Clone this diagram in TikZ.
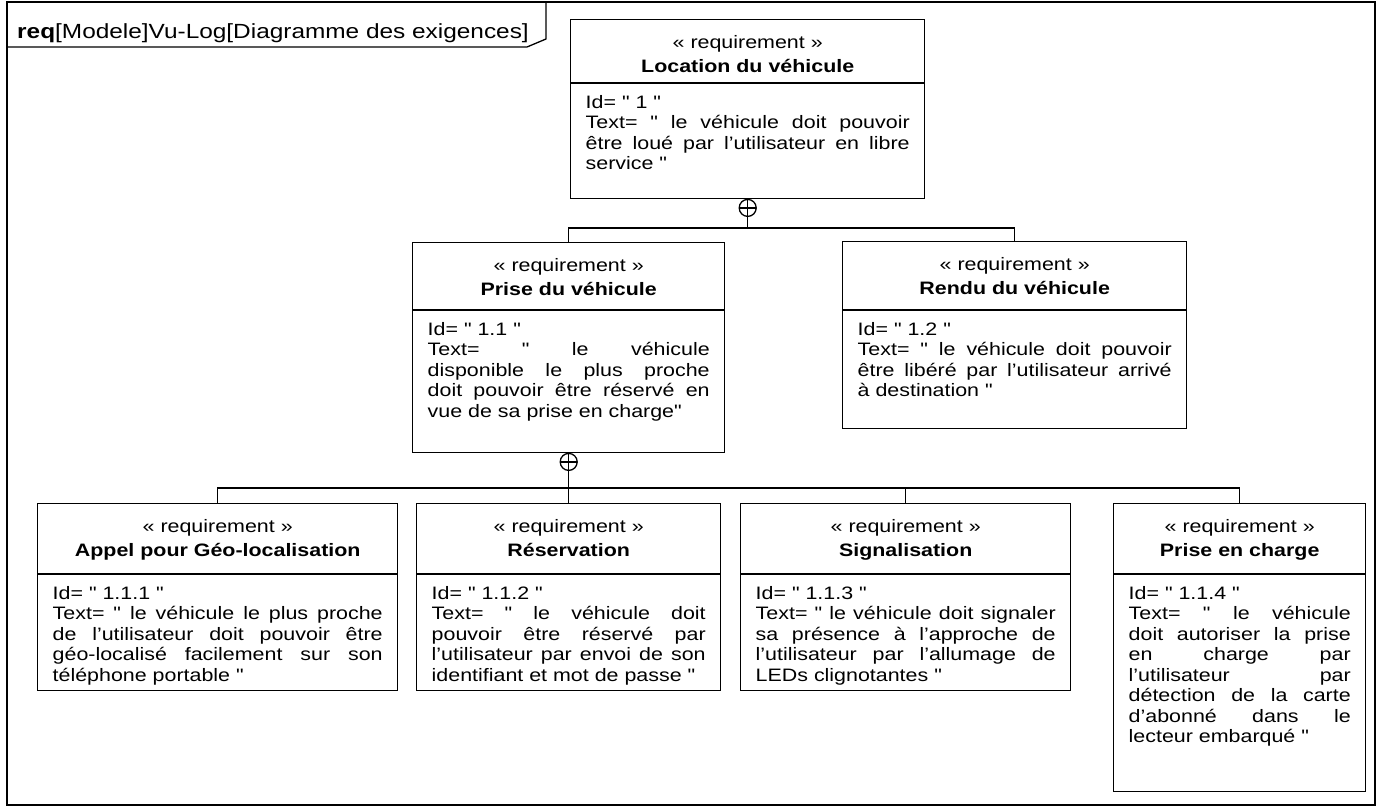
\documentclass[tikz,border=0pt]{standalone}
\usepackage{fontspec}
\setmainfont{Liberation Sans}[FakeStretch=1.19, Ligatures=TeXOff]
\usetikzlibrary{positioning}
\setlength{\parindent}{0pt}
\tolerance=10000
\hbadness=10000
\hyphenpenalty=10000
\exhyphenpenalty=10000

% one requirement block: name, x, y, text width, header height, height, title, id, text
\newcommand{\reqbox}[9]{%
  \node[reqframe, minimum width=#4pt+30pt, minimum height=#6pt] (#1) at (#2,#3) {};
  \node[stereo] (#1-s) at ([yshift=-29pt]#1.north) {« requirement »};
  \node[reqname] (#1-n) at ([yshift=-53pt]#1.north) {#7};
  \draw[reqline] ([yshift=-#5pt]#1.north west) -- ([yshift=-#5pt]#1.north east);
  \node[reqbody, text width=#4pt] (#1-b) at ([yshift=-#5pt]#1.north) {Id= " #8 "\par #9};
}

\begin{document}
\begin{tikzpicture}[
    x=1pt, y=-1pt,
    reqframe/.style={draw, line width=1.4pt, anchor=north west, inner sep=0pt},
    reqline/.style={line width=1.4pt},
    stereo/.style={anchor=base, inner sep=0pt, font=\fontsize{18}{20}\selectfont},
    reqname/.style={anchor=base, inner sep=0pt, font=\fontsize{18}{20}\selectfont\bfseries},
    reqbody/.style={anchor=north, inner sep=0pt, yshift=-12pt, align=justify,
      font=\fontsize{18}{20.5}\selectfont},
    conn/.style={line width=1.3pt},
    containment/.style={draw, circle, fill=white, minimum size=17pt, inner sep=0pt, line width=1.3pt,
      path picture={\draw[line width=1.3pt] (path picture bounding box.north) -- (path picture bounding box.south)
        (path picture bounding box.west) -- (path picture bounding box.east);}}
    ]
    \useasboundingbox (0,0) rectangle (1381,811);

    % diagram frame
    \draw[line width=1.3pt] (7,2) rectangle (1375,805);
    \draw[line width=1.3pt] (7,47) -- (527,47) -- (546,39) -- (546,2);
    \node[anchor=base west, inner sep=0pt, font=\fontsize{20.5}{22}\selectfont] (label) at (17,38)
      {\textbf{req}[Modele]Vu-Log[Diagramme des exigences]};

    \reqbox{loc}{570}{19}{324}{64}{179}{Location du véhicule}{1}
      {Text= " le véhicule doit pouvoir\linebreak être loué par l’utilisateur en libre\linebreak service "}
    \reqbox{pv}{412}{242}{282}{68}{210}{Prise du véhicule}{1.1}
      {Text= " le véhicule\linebreak disponible le plus proche\linebreak doit pouvoir être réservé en\linebreak vue de sa prise en charge"}
    \reqbox{rv}{842}{241}{314}{69}{187}{Rendu du véhicule}{1.2}
      {Text= " le véhicule doit pouvoir\linebreak être libéré par l’utilisateur arrivé\linebreak à destination "}
    \reqbox{appel}{37}{503}{330}{71}{187}{Appel pour Géo-localisation}{1.1.1}
      {Text= " le véhicule le plus proche\linebreak de l’utilisateur doit pouvoir être\linebreak géo-localisé facilement sur son\linebreak téléphone portable "}
    \reqbox{resa}{416}{503}{274}{71}{187}{Réservation}{1.1.2}
      {Text= " le véhicule doit\linebreak pouvoir être réservé par\linebreak l’utilisateur par envoi de son\linebreak identifiant et mot de passe "}
    \reqbox{signal}{740}{503}{300}{71}{187}{Signalisation}{1.1.3}
      {Text= " le véhicule doit signaler\linebreak sa présence à l’approche de\linebreak l’utilisateur par l’allumage de\linebreak LEDs clignotantes "}
    \reqbox{pec}{1113}{503}{222}{71}{288}{Prise en charge}{1.1.4}
      {Text= " le véhicule\linebreak doit autoriser la prise\linebreak en charge par\linebreak l’utilisateur par\linebreak détection de la carte\linebreak d’abonné dans le\linebreak lecteur embarqué "}

    % containment links
    \node[containment] (loc-c) at ([yshift=-8.5pt]loc.south) {};
    \node[containment] (pv-c) at ([yshift=-8.5pt]pv.south) {};
    \coordinate (bus1) at (0,228);
    \coordinate (bus2) at (0,488);

    \draw[conn] (loc-c) -- (loc-c |- bus1);
    \draw[conn] (pv.north) -- (pv.north |- bus1) -- (rv.north |- bus1) -- (rv.north);

    \draw[conn] (pv-c) -- (pv-c |- bus2);
    \draw[conn] (appel.north) -- (appel.north |- bus2) -- (pec.north |- bus2) -- (pec.north);
    \draw[conn] (resa.north) -- (resa.north |- bus2);
    \draw[conn] (signal.north) -- (signal.north |- bus2);

\end{tikzpicture}
\end{document}
